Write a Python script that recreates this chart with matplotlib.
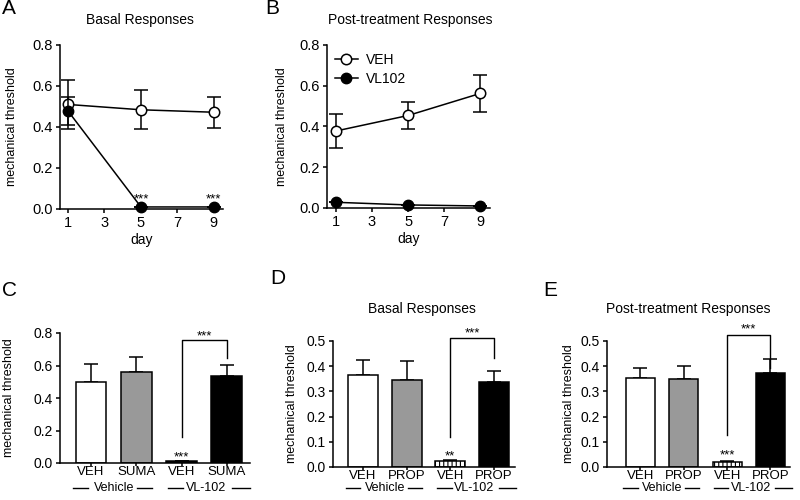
import matplotlib.pyplot as plt
from matplotlib.lines import Line2D
import numpy as np

plt.rcParams['font.family'] = ['Liberation Sans', 'DejaVu Sans']
plt.rcParams['hatch.linewidth'] = 0.8

# line panels (A, B)
days = [1, 5, 9]
a_veh = [0.51, 0.484, 0.472]
a_veh_err = [0.12, 0.095, 0.075]
a_vl = [0.478, 0.01, 0.01]
a_vl_err = [0.07, 0.0, 0.0]
b_veh = [0.378, 0.454, 0.562]
b_veh_err = [0.085, 0.065, 0.09]
b_vl = [0.028, 0.015, 0.01]
b_vl_err = [0.0, 0.0, 0.0]

# bar panels (C, D, E)
c_labels = ['VEH', 'SUMA', 'VEH', 'SUMA']
c_vals = [0.50, 0.56, 0.01, 0.535]
c_err = [0.108, 0.095, 0.005, 0.07]
de_labels = ['VEH', 'PROP', 'VEH', 'PROP']
d_vals = [0.367, 0.345, 0.022, 0.338]
d_err = [0.057, 0.077, 0.004, 0.044]
e_vals = [0.354, 0.351, 0.020, 0.374]
e_err = [0.037, 0.051, 0.004, 0.053]
groups = ['Vehicle', 'VL-102']

fig = plt.figure(figsize=(8, 5), dpi=100)


def px_axes(l, t, r, b):
    return fig.add_axes([l / 800, 1 - b / 500, (r - l) / 800, (b - t) / 500])


def style(ax, ylabel, lab_x, tick_fs):
    for s in ['top', 'right']:
        ax.spines[s].set_visible(False)
    for s in ['left', 'bottom']:
        ax.spines[s].set_linewidth(1.1)
    ax.tick_params(direction='out', width=1.1, length=3, pad=2, labelsize=tick_fs)
    ax.set_ylabel(ylabel, fontsize=9)
    ax.yaxis.set_label_coords(lab_x, 0.5)


def noclip(cont):
    for art in cont.get_children():
        art.set_clip_on(False)


def stars(ax, x, yc, s, fs=9.5):
    # place the asterisks so that their centre sits at yc
    ax.annotate(s, (x, yc), xytext=(0, -0.58 * fs), textcoords='offset points',
                ha='center', va='baseline', fontsize=fs, annotation_clip=False)


def line_panel(ax, veh, veh_err, vl, vl_err, lab_x):
    c1 = ax.errorbar(days, veh, yerr=veh_err, fmt='-o', color='black', mfc='white',
                     mec='black', mew=1.1, ms=7.5, lw=1.1, capsize=5, capthick=1.1,
                     elinewidth=1.1, zorder=3)
    c2 = ax.errorbar(days, vl, yerr=vl_err, fmt='-o', color='black', mfc='black',
                     mec='black', ms=7.5, lw=1.1, capsize=5, capthick=1.1,
                     elinewidth=1.1, zorder=4)
    noclip(c1)
    noclip(c2)
    ax.set_ylim(0, 0.8)
    ax.set_yticks([0, 0.2, 0.4, 0.6, 0.8])
    ax.set_xticks([1, 3, 5, 7, 9])
    ax.set_xlabel('day', fontsize=10, labelpad=2)
    style(ax, 'mechanical threshold', lab_x, 10.5)


def bar_panel(ax, labels, vals, err, colors, hatches, ylim, yticks, xlim, width,
              bracket, star_pos, star_lab, lab_x, group_y):
    pos = np.arange(len(vals))
    bars = ax.bar(pos, vals, width, color=colors, edgecolor='black', lw=1.1, zorder=2)
    for b, h in zip(bars, hatches):
        b.set_hatch(h)
    eb = ax.errorbar(pos, vals, yerr=[np.zeros(len(err)), err], fmt='none', ecolor='black',
                     capsize=5, capthick=1.1, elinewidth=1.1, zorder=1)
    noclip(eb)
    ax.set_xlim(*xlim)
    ax.set_ylim(*ylim)
    ax.set_yticks(yticks)
    ax.set_xticks(pos)
    ax.set_xticklabels(labels)
    style(ax, 'mechanical threshold', lab_x, 10)
    ax.tick_params(axis='x', length=2.5, pad=0, labelsize=9.5)
    # bracket between VL-102 bars
    top, left_bot, right_bot = bracket
    ax.plot([2, 2, 3, 3], [left_bot, top, top, right_bot], color='black', lw=1.0,
            clip_on=False)
    stars(ax, 2.5, star_pos[0], '***')
    stars(ax, 2, star_pos[1], star_lab)
    # group labels below axis, flanked by short lines
    tr = ax.get_xaxis_transform()
    for g, c, left, right in [(groups[0], 0.5, (-0.9, -0.56), (0.52, 0.84)),
                              (groups[1], 2.55, (-0.85, -0.52), (0.56, 0.95))]:
        ax.text(c, group_y, g, transform=tr, ha='center', va='center', fontsize=9)
        ax.plot([c + left[0], c + left[1]], [group_y, group_y], transform=tr,
                color='black', lw=1.0, clip_on=False)
        ax.plot([c + right[0], c + right[1]], [group_y, group_y], transform=tr,
                color='black', lw=1.0, clip_on=False)


# A
axA = px_axes(60, 45, 223, 209)
line_panel(axA, a_veh, a_veh_err, a_vl, a_vl_err, -0.26)
axA.set_xlim(0.56, 9.5)
for d in [5, 9]:
    stars(axA, d, 0.07, '***')

# B
axB = px_axes(327, 45, 490, 208)
line_panel(axB, b_veh, b_veh_err, b_vl, b_vl_err, -0.24)
axB.set_xlim(0.5, 9.55)
handles = [Line2D([], [], color='black', lw=1.1, marker='o', ms=7.5, mfc='white',
                  mec='black', mew=1.1),
           Line2D([], [], color='black', lw=1.1, marker='o', ms=7.5, mfc='black',
                  mec='black')]
axB.legend(handles, ['VEH', 'VL102'], loc='upper left', bbox_to_anchor=(0.0, 1.0),
           frameon=False, fontsize=10, handlelength=1.6, handletextpad=0.6,
           labelspacing=0.35, borderaxespad=0.2)

bar_colors = ['white', '#999999', 'black', 'black']
# C
axC = px_axes(60, 333, 250, 463)
bar_panel(axC, c_labels, c_vals, c_err, bar_colors, [None, None, None, None],
          (0, 0.8), [0, 0.2, 0.4, 0.6, 0.8], (-0.684, 3.51), 0.68,
          (0.76, 0.163, 0.649), (0.81, 0.065), '***', -0.237, -25 / 130)

de_colors = ['white', '#999999', 'white', 'black']
de_hatch = [None, None, '||||', None]
# D
axD = px_axes(333, 341, 515, 467)
bar_panel(axD, de_labels, d_vals, d_err, de_colors, de_hatch,
          (0, 0.5), [0, 0.1, 0.2, 0.3, 0.4, 0.5], (-0.687, 3.48), 0.69,
          (0.51, 0.119, 0.431), (0.55, 0.06), '**', -0.192, -21 / 126)

# E
axE = px_axes(607, 341, 790, 467)
bar_panel(axE, de_labels, e_vals, e_err, de_colors, de_hatch,
          (0, 0.5), [0, 0.1, 0.2, 0.3, 0.4, 0.5], (-0.773, 3.45), 0.67,
          (0.524, 0.126, 0.391), (0.564, 0.066), '***', -0.175, -21 / 126)

# titles and panel letters
fig.text(140 / 800, 1 - 20 / 500, 'Basal Responses', ha='center', va='center', fontsize=10)
fig.text(410 / 800, 1 - 20 / 500, 'Post-treatment Responses', ha='center', va='center',
         fontsize=10)
fig.text(422 / 800, 1 - 309 / 500, 'Basal Responses', ha='center', va='center', fontsize=10)
fig.text(688 / 800, 1 - 309 / 500, 'Post-treatment Responses', ha='center', va='center',
         fontsize=10)
for letter, x, y in [('A', 2, 9), ('B', 265, 9), ('C', 2, 291), ('D', 270, 278),
                     ('E', 543, 291)]:
    fig.text(x / 800, 1 - y / 500, letter, ha='left', va='center', fontsize=15)

fig.savefig('out.png', dpi=100)
